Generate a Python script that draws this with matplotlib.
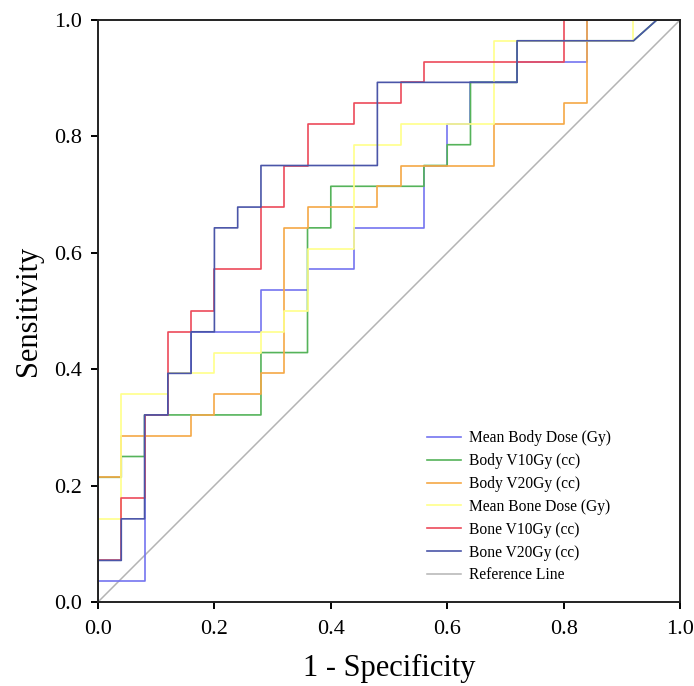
import numpy as np
import matplotlib
matplotlib.use("Agg")
import matplotlib.pyplot as plt

# ROC steps: 25 negatives (x), 28 positives (y)
n_neg = 25
n_pos = 28

labels = ["Mean Body Dose (Gy)", "Body V10Gy (cc)", "Body V20Gy (cc)",
          "Mean Bone Dose (Gy)", "Bone V10Gy (cc)", "Bone V20Gy (cc)"]
colors = ["#7474f0", "#55b35a", "#f5a845", "#ffff8a", "#ec4a5a", "#4a55a8"]

mean_body_fp = [0, 0, 2, 2, 3, 3, 4, 4, 7, 7, 9, 9, 11, 11, 14, 14, 15, 15, 16, 16, 18, 18, 21, 21, 25]
mean_body_tp = [0, 1, 1, 9, 9, 11, 11, 13, 13, 15, 15, 16, 16, 18, 18, 21, 21, 23, 23, 25, 25, 26, 26, 28, 28]

body_v10_fp = [0, 0, 1, 1, 2, 2, 7, 7, 9, 9, 10, 10, 14, 14, 15, 15, 16, 16, 18, 18, 23, 24, 25]
body_v10_tp = [0, 6, 6, 7, 7, 9, 9, 12, 12, 18, 18, 20, 20, 21, 21, 22, 22, 25, 25, 27, 27, 28, 28]

body_v20_fp = [0, 0, 1, 1, 4, 4, 5, 5, 7, 7, 8, 8, 9, 9, 12, 12, 13, 13, 17, 17, 20, 20, 21, 21, 25]
body_v20_tp = [0, 6, 6, 8, 8, 9, 9, 10, 10, 11, 11, 18, 18, 19, 19, 20, 20, 21, 21, 23, 23, 24, 24, 28, 28]

mean_bone_fp = [0, 0, 1, 1, 3, 3, 5, 5, 7, 7, 8, 8, 9, 9, 11, 11, 13, 13, 17, 17, 23, 23, 25]
mean_bone_tp = [0, 4, 4, 10, 10, 11, 11, 12, 12, 13, 13, 14, 14, 17, 17, 22, 22, 23, 23, 27, 27, 28, 28]

bone_v10_fp = [0, 0, 1, 1, 2, 2, 3, 3, 4, 4, 5, 5, 7, 7, 8, 8, 9, 9, 11, 11, 13, 13, 14, 14, 20, 20, 25]
bone_v10_tp = [0, 2, 2, 5, 5, 9, 9, 13, 13, 14, 14, 16, 16, 19, 19, 21, 21, 23, 23, 24, 24, 25, 25, 26, 26, 28, 28]

bone_v20_fp = [0, 0, 1, 1, 2, 2, 3, 3, 4, 4, 5, 5, 6, 6, 7, 7, 12, 12, 18, 18, 23, 24, 25]
bone_v20_tp = [0, 2, 2, 4, 4, 9, 9, 11, 11, 13, 13, 18, 18, 19, 19, 21, 21, 25, 25, 27, 27, 28, 28]

curves = [(mean_body_fp, mean_body_tp), (body_v10_fp, body_v10_tp), (body_v20_fp, body_v20_tp),
          (mean_bone_fp, mean_bone_tp), (bone_v10_fp, bone_v10_tp), (bone_v20_fp, bone_v20_tp)]

plt.rcParams["font.family"] = ["Liberation Serif", "DejaVu Serif"]

fig = plt.figure(figsize=(6.94, 6.86), dpi=100)
ax = fig.add_axes([98/694, 1-602/686, 582/694, 582/686])

ax.plot([0, 1], [0, 1], color="#b4b4b4", lw=1.1, label="_ref")
for (fp, tp), lab, col in zip(curves, labels, colors):
    ax.plot(np.array(fp)/n_neg, np.array(tp)/n_pos, color=col, lw=1.2, label=lab)

# legend: reference line listed last
h, l = ax.get_legend_handles_labels()
ref_handle = ax.lines[0]
leg = ax.legend(h + [ref_handle], l + ["Reference Line"], loc="upper left",
                bbox_to_anchor=(0.565, 0.295), frameon=False, fontsize=11.2,
                handlelength=2.2, handletextpad=0.5, labelspacing=0.44,
                borderaxespad=0, borderpad=0)

ax.set_xlim(0, 1)
ax.set_ylim(0, 1)
ticks = [0.0, 0.2, 0.4, 0.6, 0.8, 1.0]
ax.set_xticks(ticks)
ax.set_yticks(ticks)
ax.set_xticklabels(["%.1f" % t for t in ticks])
ax.set_yticklabels(["%.1f" % t for t in ticks])
ax.tick_params(direction="out", length=5, width=1.4, labelsize=16)
ax.tick_params(axis="x", pad=8)
ax.tick_params(axis="y", pad=6.5)
for s in ax.spines.values():
    s.set_linewidth(1.4)
    s.set_color("#222222")

ax.set_xlabel("1 - Specificity", fontsize=22, labelpad=11)
ax.set_ylabel("Sensitivity", fontsize=22, labelpad=8)

fig.savefig("out.png", dpi=100)
